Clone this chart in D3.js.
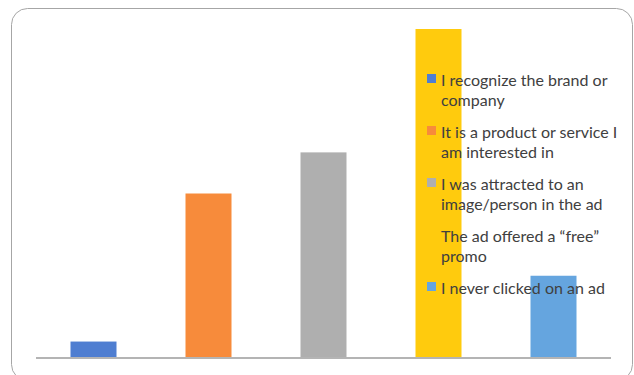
<!DOCTYPE html>
<html>
<head>
<meta charset="utf-8">
<script src="https://cdn.jsdelivr.net/npm/d3@7"></script>
<style>
  html, body { margin: 0; padding: 0; background: #fff; }
  svg { display: block; }
</style>
</head>
<body>
<svg id="chart" width="634" height="375"></svg>
<script>
// Reasons for clicking on an online ad (percent of respondents)
const categories = [
  "I recognize the brand or company",
  "It is a product or service I am interested in",
  "I was attracted to an image/person in the ad",
  "The ad offered a \u201cfree\u201d promo",
  "I never clicked on an ad"
];
const values = [2, 20, 25, 40, 10];
const colors = ["#4f7ed1", "#f78b3b", "#afafaf", "#ffcb0d", "#65a5df"];
// Legend entries, pre-wrapped as they appear in the legend box
const legendLines = [
  ["I recognize the brand or", "company"],
  ["It is a product or service I", "am interested in"],
  ["I was attracted to an", "image/person in the ad"],
  ["The ad offered a \u201cfree\u201d", "promo"],
  ["I never clicked on an ad"]
];

const svg = d3.select("#chart");

// Chart area frame with rounded corners
svg.append("rect")
  .attr("x", 11.5).attr("y", 8.5)
  .attr("width", 621).attr("height", 372)
  .attr("rx", 16).attr("ry", 16)
  .attr("fill", "#fff")
  .attr("stroke", "#a6a6a6")
  .attr("stroke-width", 1);

const x = d3.scaleBand()
  .domain(categories)
  .range([36, 611])
  .paddingInner(0.6)
  .paddingOuter(0.3);

const y = d3.scaleLinear()
  .domain([0, 40])
  .range([358, 29]);

svg.append("g")
  .selectAll("rect")
  .data(categories)
  .join("rect")
  .attr("x", d => x(d))
  .attr("width", x.bandwidth())
  .attr("y", (d, i) => y(values[i]))
  .attr("height", (d, i) => y(0) - y(values[i]))
  .attr("fill", (d, i) => colors[i]);

// Category axis line only (no ticks or labels)
const xAxis = svg.append("g")
  .attr("transform", `translate(0,${y(0)})`)
  .call(d3.axisBottom(x).tickSize(0).tickFormat(""));
xAxis.select(".domain")
  .attr("stroke", "#b4b4b4")
  .attr("stroke-width", 2)
  .attr("d", "M36,0H611");

// Legend
const legend = svg.append("g")
  .attr("font-family", "Lato, 'Open Sans', sans-serif")
  .attr("font-size", 16)
  .attr("fill", "#404040");

const itemTop = [74, 126, 178, 230, 282];
categories.forEach((c, i) => {
  const g = legend.append("g").attr("transform", `translate(427,${itemTop[i]})`);
  g.append("rect")
    .attr("x", 0).attr("y", 0)
    .attr("width", 9).attr("height", 9)
    .attr("fill", colors[i]);
  legendLines[i].forEach((line, j) => {
    g.append("text")
      .attr("x", 14)
      .attr("y", 12 + j * 20)
      .text(line);
  });
});
</script>
</body>
</html>
